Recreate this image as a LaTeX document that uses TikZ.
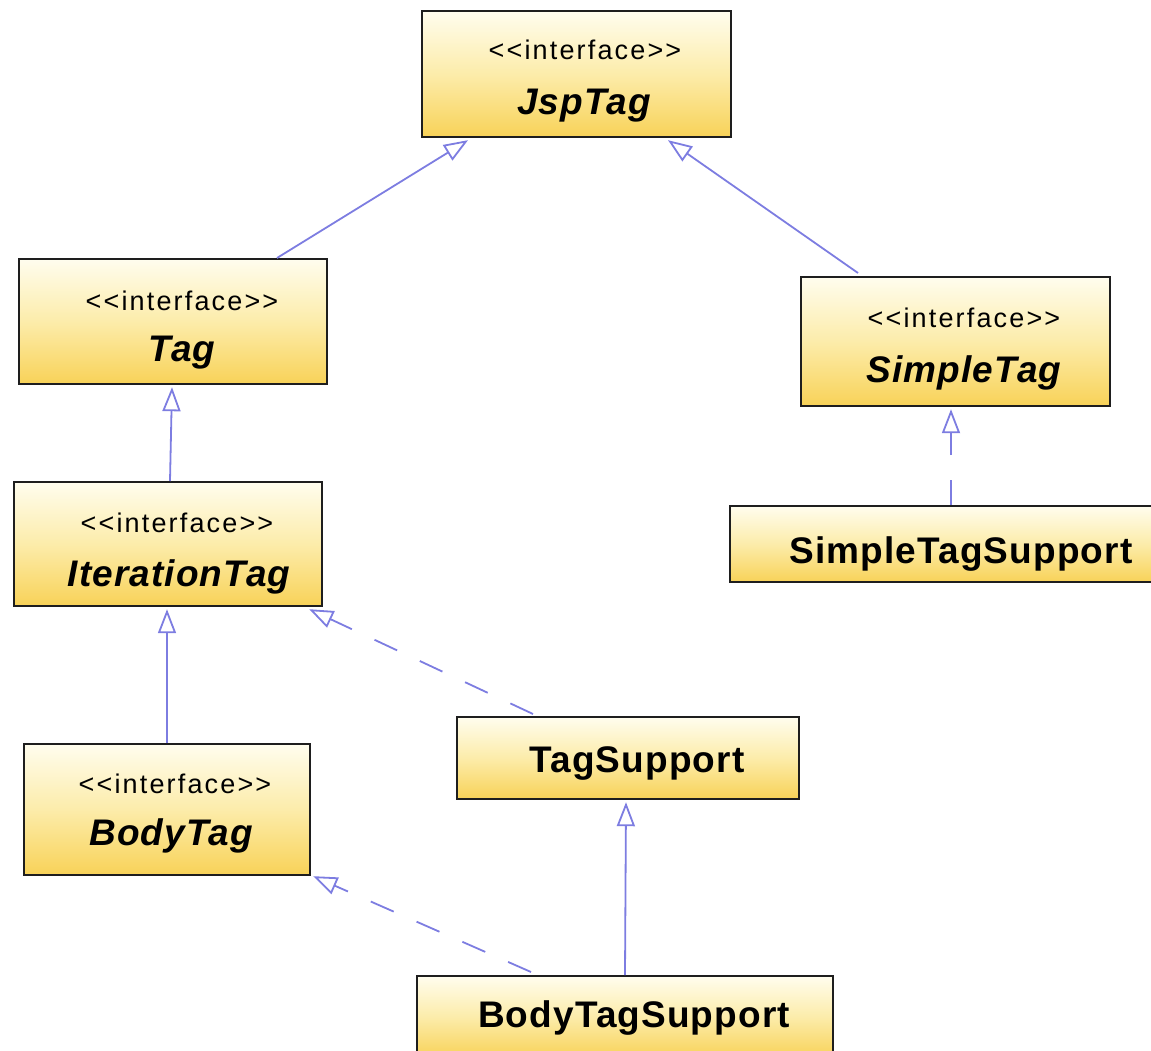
\documentclass[tikz,border=0pt]{standalone}
\usepackage{fontspec}
\setmainfont{Liberation Sans}
\newfontfamily\stfont[LetterSpace=8]{Liberation Sans}
\newfontfamily\nmfont[LetterSpace=3]{Liberation Sans}
\usetikzlibrary{arrows.meta,calc}
\definecolor{edgecol}{RGB}{125,125,225}
\definecolor{boxtop}{RGB}{255,253,238}
\definecolor{boxmid}{RGB}{252,236,170}
\definecolor{boxbot}{RGB}{248,210,88}
\definecolor{boxline}{RGB}{30,30,30}
\tikzset{
  umlbox/.style={draw=boxline, line width=2.2pt, top color=boxtop, bottom color=boxbot, middle color=boxmid, inner sep=0pt, anchor=north west},
  sttext/.style={anchor=base, inner sep=0pt, font=\stfont\fontsize{27}{30}\selectfont},
  ifname/.style={anchor=base, inner sep=0pt, font=\nmfont\fontsize{37}{40}\selectfont\bfseries\itshape},
  clname/.style={anchor=base, inner sep=0pt, font=\nmfont\fontsize{37}{40}\selectfont\bfseries},
  gen/.style={draw=edgecol, line width=1.8pt, -{Triangle[open, length=24pt, width=18pt, line width=1.8pt, fill=white]}},
  real/.style={gen, dash pattern=on 25pt off 25pt},
}
\begin{document}
\begin{tikzpicture}[x=1pt,y=-1pt]
\useasboundingbox (0,0) rectangle (1151,1051);
\clip (0,0) rectangle (1151,1051);
% boxes
\node[umlbox, minimum width=309pt, minimum height=126pt] (jsp) at (421,10) {};
\node[umlbox, minimum width=308pt, minimum height=125pt] (tag) at (18,258) {};
\node[umlbox, minimum width=309pt, minimum height=129pt] (simple) at (800,276) {};
\node[umlbox, minimum width=308pt, minimum height=124pt] (iter) at (13,481) {};
\node[umlbox, minimum width=444pt, minimum height=76pt] (sts) at (729,505) {};
\node[umlbox, minimum width=342pt, minimum height=82pt] (ts) at (456,716) {};
\node[umlbox, minimum width=286pt, minimum height=131pt] (body) at (23,743) {};
\node[umlbox, minimum width=416pt, minimum height=82pt] (bts) at (416,975) {};
% texts
\node[sttext] (jspst) at (585,60) {<<interface>>};
\node[ifname] (jspnm) at (584,115) {JspTag};
\node[sttext] (tagst) at (182,310) {<<interface>>};
\node[ifname] (tagnm) at (182,361) {Tag};
\node[sttext] (simplest) at (964,327) {<<interface>>};
\node[ifname] (simplenm) at (964,382) {SimpleTag};
\node[sttext] (iterst) at (177,532) {<<interface>>};
\node[ifname] (iternm) at (179,586) {IterationTag};
\node[clname] (ststx) at (961,563) {SimpleTagSupport};
\node[clname] (tstx) at (637,772) {TagSupport};
\node[sttext] (bodyst) at (175,793) {<<interface>>};
\node[ifname] (bodynm) at (171,845) {BodyTag};
\node[clname] (btstx) at (634,1027) {BodyTagSupport};
% connectors
\draw[gen] ($(tag.north west)+(259,0)$) -- ($(jsp.south west)+(47,2)$);
\draw[gen] ($(simple.north west)+(58,-3)$) -- ($(jsp.south west)+(247,2)$);
\draw[gen] ($(iter.north west)+(157,0)$) -- ($(tag.south west)+(154,2)$);
\draw[real] ($(sts.north west)+(222,0)$) -- ($(simple.south west)+(151,2)$);
\draw[gen] ($(body.north west)+(144,0)$) -- ($(iter.south west)+(154,2)$);
\draw[real] ($(ts.north west)+(77,-2)$) -- ($(iter.south east)+(-14,2)$);
\draw[gen] ($(bts.north west)+(209,0)$) -- ($(ts.south west)+(170,2)$);
\draw[real] ($(bts.north west)+(115,-3)$) -- ($(body.south east)+(2,0)$);
\end{tikzpicture}
\end{document}
